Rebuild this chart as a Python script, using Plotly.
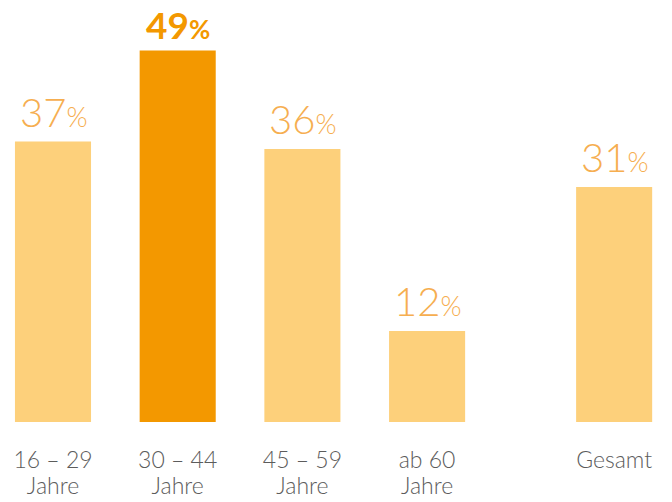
import plotly.graph_objects as go

categories_line1 = ["16 – 29", "30 – 44", "45 – 59", "ab 60", "Gesamt"]
categories_line2 = ["Jahre", "Jahre", "Jahre", "Jahre", ""]
positions = [0, 1, 2, 3, 4.5]
values = [37, 49, 36, 12, 31]
highlight = [False, True, False, False, False]

LIGHT = "#FDD07B"
DARK = "#F39800"
LABEL_LIGHT = "#F6AE50"
GRAY = "#5c5c5c"
FONT = "Lato"

bar_colors = [DARK if h else LIGHT for h in highlight]

fig = go.Figure()
fig.add_trace(go.Bar(
    x=positions, y=values, width=0.61,
    marker=dict(color=bar_colors, line=dict(width=0)),
    hoverinfo="skip",
))
fig.add_trace(go.Scatter(x=positions, y=[None]*len(positions), xaxis="x2",
                         mode="markers", showlegend=False, hoverinfo="skip"))

for p, v, h in zip(positions, values, highlight):
    if h:
        txt = f"<b>{v}<span style='font-size:26px'>%</span></b>"
        col = DARK
        size = 37
        shift = 3
    else:
        txt = f"{v}<span style='font-size:27px'>%</span>"
        col = LABEL_LIGHT
        size = 40
        shift = 5
    fig.add_annotation(x=p, y=v, xref="x", yref="y", text=txt, showarrow=False,
                       yanchor="bottom", xanchor="center", yshift=shift,
                       borderpad=0,
                       font=dict(family=FONT, size=size, color=col, weight=300))

fig.update_layout(
    width=672, height=502,
    margin=dict(l=0, r=0, t=0, b=80),
    paper_bgcolor="white", plot_bgcolor="white",
    showlegend=False,
    xaxis=dict(range=[-0.425, 4.964], tickvals=positions, ticktext=categories_line1,
               showgrid=False, zeroline=False, showline=False, ticks="",
               tickfont=dict(family=FONT, size=23, color=GRAY, weight=300),
               ticklabelstandoff=22, fixedrange=True),
    xaxis2=dict(range=[-0.425, 4.964], tickvals=positions, ticktext=categories_line2,
                overlaying="x", anchor="y", side="bottom",
                showgrid=False, zeroline=False, showline=False, ticks="",
                tickfont=dict(family=FONT, size=23, color=GRAY, weight=300),
                ticklabelstandoff=48, fixedrange=True),
    yaxis=dict(range=[0, 55.67], visible=False, fixedrange=True),
)

fig.write_html("out.html", config={"displayModeBar": False},
               post_script="document.body.style.margin='0';")
